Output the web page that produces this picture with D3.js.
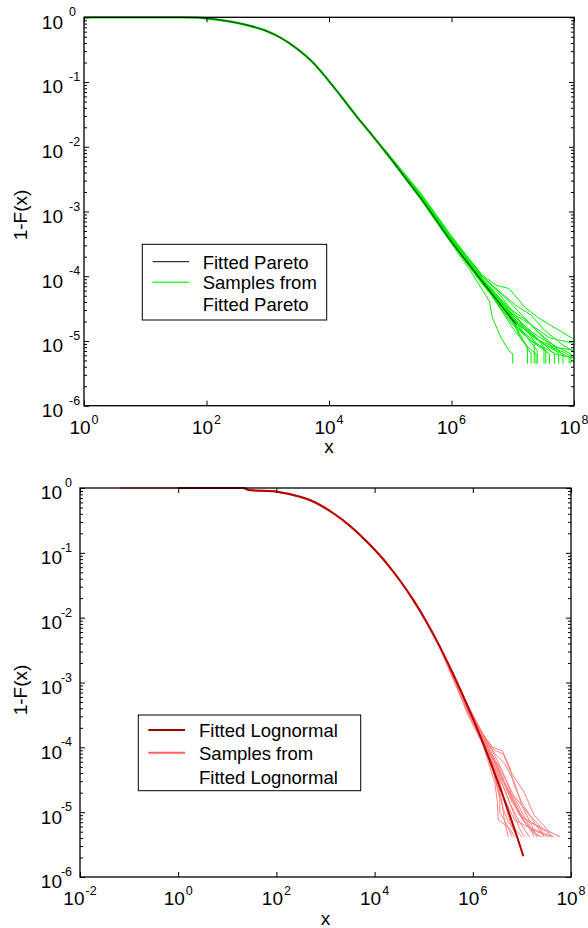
<!DOCTYPE html>
<html><head><meta charset="utf-8">
<script src="https://cdn.jsdelivr.net/npm/d3@7"></script>
<style>
body{margin:0;background:#fff}
svg{display:block}
text{font-family:"Liberation Sans",Arial,sans-serif;fill:#000}
</style>
</head><body><div id="chart"></div>
<script>
// ---------- DATA (values stored as log10 exponents: [log10 x, log10 (1-F(x))]) ----------
const topXTickExp = [0, 2, 4, 6, 8];
const topYTickExp = [0, -1, -2, -3, -4, -5, -6];
const bottomXTickExp = [-2, 0, 2, 4, 6, 8];
const bottomYTickExp = [0, -1, -2, -3, -4, -5, -6];

const paretoFit = [[0,0],[1.6,0],[1.85,-0.005],[2.17,-0.035],[2.66,-0.12],[2.99,-0.215],[3.2,-0.31],[3.47,-0.48],[3.75,-0.71],[3.96,-0.94],[4.18,-1.2],[4.45,-1.53],[4.72,-1.84],[4.94,-2.1],[5.26,-2.5],[5.48,-2.77],[5.97,-3.43],[6.5,-4.08],[7.06,-4.75]];

const paretoSampleTails = [
  [[4.9,-2.04],[5.5,-2.74],[6,-3.40],[6.5,-3.98],[6.73,-4.14],[6.94,-4.19],[7.21,-4.49],[7.43,-4.65],[7.64,-4.77],[8.05,-5.0]],
  [[4.9,-2.06],[5.5,-2.82],[6,-3.5],[6.3,-3.9],[6.62,-4.39],[6.67,-4.65],[6.81,-4.95],[6.94,-5.15],[7.0,-5.2],[7.0,-5.35]],
  [[4.9,-2.05],[5.5,-2.78],[6,-3.47],[6.5,-4.1],[6.8,-4.45],[7.0,-4.7],[7.15,-4.95],[7.24,-5.1],[7.24,-5.35]],
  [[4.9,-2.03],[5.5,-2.72],[6,-3.38],[6.5,-3.99],[6.8,-4.3],[7.0,-4.55],[7.2,-4.8],[7.35,-5.0],[7.35,-5.35]],
  [[4.9,-2.06],[5.5,-2.79],[6,-3.44],[6.5,-4.03],[7.0,-4.62],[7.2,-4.9],[7.4,-5.15],[7.4,-5.35]],
  [[4.9,-2.05],[5.5,-2.75],[6,-3.42],[6.5,-4.05],[7.0,-4.6],[7.3,-4.85],[7.51,-5.1],[7.51,-5.35]],
  [[4.9,-2.04],[5.5,-2.76],[6,-3.46],[6.5,-4.1],[7.0,-4.72],[7.3,-5.0],[7.6,-5.2],[7.6,-5.35]],
  [[4.9,-2.07],[5.5,-2.8],[6,-3.48],[6.5,-4.12],[6.9,-4.55],[7.2,-4.8],[7.45,-5.0],[7.68,-5.2],[7.68,-5.35]],
  [[4.9,-2.05],[5.5,-2.77],[6,-3.43],[6.5,-4.04],[6.95,-4.5],[7.25,-4.7],[7.5,-4.95],[7.75,-5.2],[7.75,-5.35]],
  [[4.9,-2.06],[5.5,-2.73],[6,-3.39],[6.5,-4.0],[6.9,-4.35],[7.1,-4.55],[7.4,-4.85],[7.65,-5.05],[7.82,-5.22],[7.82,-5.35]],
  [[4.9,-2.04],[5.5,-2.76],[6,-3.45],[6.5,-4.06],[7.0,-4.66],[7.35,-4.95],[7.6,-5.1],[7.92,-5.25],[7.92,-5.35]],
  [[4.9,-2.05],[5.5,-2.78],[6,-3.41],[6.5,-4.02],[7.0,-4.58],[7.3,-4.75],[7.6,-4.95],[8.05,-5.05]],
  [[4.9,-2.06],[5.5,-2.74],[6,-3.44],[6.5,-4.08],[7.0,-4.68],[7.4,-4.98],[7.7,-5.1],[8.05,-5.15]],
  [[4.9,-2.05],[5.5,-2.8],[6,-3.46],[6.5,-4.1],[7.0,-4.75],[7.3,-5.0],[7.7,-5.2],[8.05,-5.28]],
  [[4.9,-2.04],[5.5,-2.75],[6,-3.4],[6.5,-4.0],[6.8,-4.25],[7.05,-4.45],[7.3,-4.6],[7.5,-4.82],[7.8,-5.05],[8.05,-5.2]],
  [[4.9,-2.06],[5.5,-2.77],[6,-3.47],[6.5,-4.07],[7.0,-4.8],[7.2,-5.05],[7.38,-5.2],[7.38,-5.35]],
  [[4.9,-2.05],[5.5,-2.79],[6,-3.43],[6.5,-4.05],[6.95,-4.62],[7.15,-4.85],[7.54,-5.15],[7.54,-5.35]],
  [[4.9,-2.05],[5.5,-2.73],[6,-3.42],[6.5,-4.03],[7.0,-4.64],[7.5,-5.05],[7.85,-5.18],[8.05,-5.3]],
  [[4.9,-2.04],[5.5,-2.77],[6,-3.45],[6.5,-4.09],[6.9,-4.5],[7.1,-4.9],[7.3,-5.2],[7.3,-5.35]],
  [[4.9,-2.06],[5.5,-2.76],[6,-3.44],[6.5,-4.04],[7.0,-4.6],[7.25,-4.82],[7.45,-4.95],[7.7,-5.08],[7.95,-5.2],[7.95,-5.35]]
];

const lognormalFit = [[0,0],[1.33,0],[1.43,-0.03],[2.01,-0.057],[2.48,-0.134],[2.68,-0.185],[3.16,-0.39],[3.5,-0.585],[3.91,-0.88],[4.25,-1.165],[4.52,-1.43],[4.79,-1.73],[5.06,-2.07],[5.33,-2.45],[5.54,-2.776],[5.81,-3.22],[6.01,-3.57],[6.21,-3.94],[6.42,-4.35],[6.6,-4.72],[6.79,-5.13],[6.93,-5.445],[7.03,-5.68]];
const lognormalSampleHead = [[-1.19,0],[0,0]];

const lognormalSampleTails = [
  [[5.3,-2.4],[5.6,-2.88],[5.9,-3.38],[6.2,-3.8],[6.5,-4.3],[6.7,-4.62],[6.9,-4.9],[7.0,-5.08],[7.4,-5.24],[7.78,-5.38]],
  [[5.3,-2.39],[5.6,-2.85],[5.9,-3.35],[6.2,-3.78],[6.4,-4.0],[6.6,-4.05],[6.75,-4.3],[6.85,-4.6],[7.0,-4.85],[7.2,-5.1],[7.45,-5.38]],
  [[5.3,-2.41],[5.6,-2.9],[5.9,-3.4],[6.2,-3.82],[6.45,-4.05],[6.62,-4.1],[6.75,-4.35],[7.05,-4.7],[7.25,-5.05],[7.5,-5.25],[7.6,-5.38]],
  [[5.3,-2.42],[5.6,-2.92],[5.9,-3.43],[6.2,-3.85],[6.5,-4.25],[6.7,-4.55],[6.9,-4.95],[7.1,-5.2],[7.35,-5.38]],
  [[5.3,-2.41],[5.6,-2.95],[5.9,-3.46],[6.2,-3.9],[6.4,-4.3],[6.55,-4.8],[6.55,-5.0],[6.7,-5.2],[6.8,-5.38]],
  [[5.3,-2.4],[5.6,-2.93],[5.9,-3.5],[6.2,-3.95],[6.45,-4.55],[6.5,-4.85],[6.52,-5.12],[6.75,-5.25],[6.85,-5.38]],
  [[5.3,-2.42],[5.6,-2.9],[5.9,-3.42],[6.2,-3.88],[6.5,-4.4],[6.7,-4.75],[6.85,-5.05],[6.95,-5.25],[7.05,-5.38]],
  [[5.3,-2.4],[5.6,-2.87],[5.9,-3.37],[6.2,-3.8],[6.5,-4.2],[6.8,-4.7],[7.0,-5.0],[7.15,-5.2],[7.25,-5.38]],
  [[5.3,-2.41],[5.6,-2.91],[5.9,-3.44],[6.2,-3.9],[6.5,-4.4],[6.6,-4.7],[6.7,-5.0],[6.78,-5.2],[6.9,-5.38]],
  [[5.3,-2.41],[5.6,-2.89],[5.9,-3.4],[6.2,-3.83],[6.5,-4.3],[6.8,-4.8],[7.0,-5.1],[7.2,-5.3],[7.4,-5.38]],
  [[5.3,-2.42],[5.6,-2.94],[5.9,-3.47],[6.2,-3.92],[6.45,-4.45],[6.6,-4.9],[6.65,-5.15],[6.72,-5.38]],
  [[5.3,-2.4],[5.6,-2.86],[5.9,-3.36],[6.2,-3.79],[6.45,-4.1],[6.65,-4.25],[6.85,-4.55],[7.0,-4.9],[7.2,-5.2],[7.3,-5.38]],
  [[5.3,-2.41],[5.6,-2.9],[5.9,-3.41],[6.2,-3.86],[6.5,-4.35],[6.75,-4.85],[6.95,-5.15],[7.15,-5.38]],
  [[5.3,-2.41],[5.6,-2.92],[5.9,-3.44],[6.2,-3.87],[6.5,-4.45],[6.65,-4.8],[6.85,-5.12],[7.3,-5.3],[7.55,-5.38]],
  [[5.3,-2.4],[5.6,-2.88],[5.9,-3.39],[6.2,-3.84],[6.55,-4.4],[6.8,-4.85],[7.05,-5.1],[7.5,-5.3],[7.65,-5.38]],
  [[5.3,-2.42],[5.6,-2.91],[5.9,-3.45],[6.2,-3.89],[6.5,-4.5],[6.62,-4.95],[6.72,-5.15],[7.0,-5.38]],
  [[5.3,-2.41],[5.6,-2.89],[5.9,-3.42],[6.2,-3.85],[6.5,-4.32],[6.75,-4.7],[6.9,-4.8],[7.1,-5.0],[7.35,-5.2],[7.45,-5.38]],
  [[5.3,-2.4],[5.6,-2.9],[5.9,-3.41],[6.2,-3.83],[6.5,-4.28],[6.7,-4.65],[6.95,-5.05],[7.2,-5.25],[7.62,-5.38]]
];

const topLegendLabels = ["Fitted Pareto", "Samples from", "Fitted Pareto"];
const bottomLegendLabels = ["Fitted Lognormal", "Samples from", "Fitted Lognormal"];

// ---------- DRAWING ----------
const W = 588, H = 928;
const svg = d3.select("#chart").append("svg").attr("width", W).attr("height", H);
svg.append("rect").attr("width", W).attr("height", H).attr("fill", "#fff");
const defs = svg.append("defs");
const pow = e => Math.pow(10, e);
const toPts = arr => arr.map(d => [pow(d[0]), pow(d[1])]);

function panel(o) {
  const x = d3.scaleLog().domain([pow(o.xExp[0]), pow(o.xExp[o.xExp.length - 1])]).range([o.left, o.right]);
  const y = d3.scaleLog().domain([pow(o.yExp[o.yExp.length - 1]), pow(o.yExp[0])]).range([o.bottom, o.top]);
  const g = svg.append("g");
  defs.append("clipPath").attr("id", o.id).append("rect")
    .attr("x", o.left).attr("y", o.top - 1).attr("width", o.right - o.left).attr("height", o.bottom - o.top + 1);
  const smooth = d3.line().x(d => x(d[0])).y(d => y(d[1])).curve(d3.curveMonotoneX);
  const line = d3.line().x(d => x(d[0])).y(d => y(d[1]));
  const plot = g.append("g").attr("clip-path", `url(#${o.id})`);

  // shared body of the sample curves
  plot.append("path").datum(toPts(o.sampleBody)).attr("d", smooth)
    .attr("fill", "none").attr("stroke", o.sampleColor).attr("stroke-width", o.bodyWidth).attr("stroke-linejoin", "round");
  o.sampleTails.forEach(t => {
    plot.append("path").datum(toPts(t)).attr("d", line)
      .attr("fill", "none").attr("stroke", o.sampleColor).attr("stroke-width", 1).attr("stroke-linejoin", "round");
  });
  plot.append("path").datum(toPts(o.fit)).attr("d", smooth)
    .attr("fill", "none").attr("stroke", o.fitColor).attr("stroke-width", o.fitWidth)
    .attr("stroke-opacity", o.fitOpacity).attr("stroke-linejoin", "round");

  // axes (ticks inside)
  const yMajor = o.yExp.map(pow);
  const yMinor = [];
  for (let k = o.yExp[o.yExp.length - 1]; k < o.yExp[0]; k++) for (let m = 2; m <= 9; m++) yMinor.push(m * pow(k));
  const xMajor = o.xExp.map(pow);
  const clean = s => { s.select(".domain").remove(); s.selectAll("line").attr("stroke", "#000"); };
  g.append("g").attr("transform", `translate(${o.left},0)`).call(d3.axisLeft(y).tickValues(yMajor).tickSizeInner(-5).tickSizeOuter(0).tickFormat("")).call(clean);
  g.append("g").attr("transform", `translate(${o.left},0)`).call(d3.axisLeft(y).tickValues(yMinor).tickSizeInner(-3).tickSizeOuter(0).tickFormat("")).call(clean);
  g.append("g").attr("transform", `translate(${o.right},0)`).call(d3.axisRight(y).tickValues(yMajor).tickSizeInner(-5).tickSizeOuter(0).tickFormat("")).call(clean);
  g.append("g").attr("transform", `translate(${o.right},0)`).call(d3.axisRight(y).tickValues(yMinor).tickSizeInner(-3).tickSizeOuter(0).tickFormat("")).call(clean);
  g.append("g").attr("transform", `translate(0,${o.bottom})`).call(d3.axisBottom(x).tickValues(xMajor).tickSizeInner(-5).tickSizeOuter(0).tickFormat("")).call(clean);
  g.append("g").attr("transform", `translate(0,${o.top})`).call(d3.axisTop(x).tickValues(xMajor).tickSizeInner(-5).tickSizeOuter(0).tickFormat("")).call(clean);
  g.append("rect").attr("x", o.left).attr("y", o.top).attr("width", o.right - o.left).attr("height", o.bottom - o.top)
    .attr("fill", "none").attr("stroke", "#000").attr("stroke-width", 1.3);

  // y tick labels
  o.yExp.forEach(e => {
    const yy = y(pow(e));
    g.append("text").attr("x", o.yLabelRight).attr("y", yy + 11.4).attr("text-anchor", "end").attr("font-size", 19).text("10");
    g.append("text").attr("x", o.yExpX).attr("y", yy - 1).attr("text-anchor", o.yExpAnchor).attr("font-size", 12.5).text(String(e));
  });
  // x tick labels
  o.xExp.forEach(e => {
    const t = g.append("text").attr("x", x(pow(e))).attr("y", o.bottom + 28).attr("text-anchor", "middle").attr("font-size", 19);
    t.append("tspan").text("10");
    t.append("tspan").attr("dx", 1).attr("dy", -10).attr("font-size", 12.5).text(String(e));
  });
  // axis titles
  g.append("text").attr("x", (o.left + o.right) / 2).attr("y", o.xTitleY).attr("text-anchor", "middle").attr("font-size", 19).text("x");
  g.append("text").attr("transform", `translate(27,${o.yTitleY}) rotate(-90)`).attr("text-anchor", "middle").attr("font-size", 19).text("1-F(x)");

  // legend
  const L = o.legend;
  g.append("rect").attr("x", L.x0).attr("y", L.y0).attr("width", L.x1 - L.x0).attr("height", L.y1 - L.y0)
    .attr("fill", "#fff").attr("stroke", "#000").attr("stroke-width", 1);
  g.append("line").attr("x1", L.lx0).attr("x2", L.lx1).attr("y1", L.rows[0]).attr("y2", L.rows[0])
    .attr("stroke", L.fitColor).attr("stroke-width", L.fitW);
  g.append("line").attr("x1", L.lx0).attr("x2", L.lx1).attr("y1", L.rows[1]).attr("y2", L.rows[1])
    .attr("stroke", L.sampleColor).attr("stroke-width", L.sampleW);
  o.legendLabels.forEach((s, i) => {
    g.append("text").attr("x", L.tx).attr("y", L.rows[i] + 6.8).attr("font-size", 18.5).text(s);
  });
}

panel({
  id: "clipTop", left: 84, right: 574, top: 17.3, bottom: 405.7,
  xExp: topXTickExp, yExp: topYTickExp,
  fit: paretoFit, fitColor: "#000", fitWidth: 1.5, fitOpacity: 0.55,
  sampleBody: paretoFit.filter(d => d[0] <= 4.94), sampleTails: paretoSampleTails,
  sampleColor: "#00ee00", bodyWidth: 2.2,
  yLabelRight: 63, yExpX: 69, yExpAnchor: "start",
  xTitleY: 453, yTitleY: 215,
  legendLabels: topLegendLabels,
  legend: { x0: 142.3, x1: 326.7, y0: 244.3, y1: 320, lx0: 152.7, lx1: 189, tx: 202.7,
            rows: [261.7, 282.3, 304.5], fitColor: "#000", fitW: 1, sampleColor: "#33ff33", sampleW: 1.5 }
});

panel({
  id: "clipBottom", left: 80, right: 571, top: 488, bottom: 877,
  xExp: bottomXTickExp, yExp: bottomYTickExp,
  fit: lognormalFit, fitColor: "#b80000", fitWidth: 2, fitOpacity: 1,
  sampleBody: lognormalSampleHead.concat(lognormalFit.filter(d => d[0] > 0 && d[0] <= 5.33)), sampleTails: lognormalSampleTails,
  sampleColor: "#ff8080", bodyWidth: 2,
  yLabelRight: 62, yExpX: 72, yExpAnchor: "end",
  xTitleY: 925, yTitleY: 690,
  legendLabels: bottomLegendLabels,
  legend: { x0: 138.3, x1: 360.7, y0: 715, y1: 790.7, lx0: 148.3, lx1: 185, tx: 199,
            rows: [730, 752.7, 777], fitColor: "#a00000", fitW: 2, sampleColor: "#ff6060", sampleW: 2 }
});
</script>
</body></html>
